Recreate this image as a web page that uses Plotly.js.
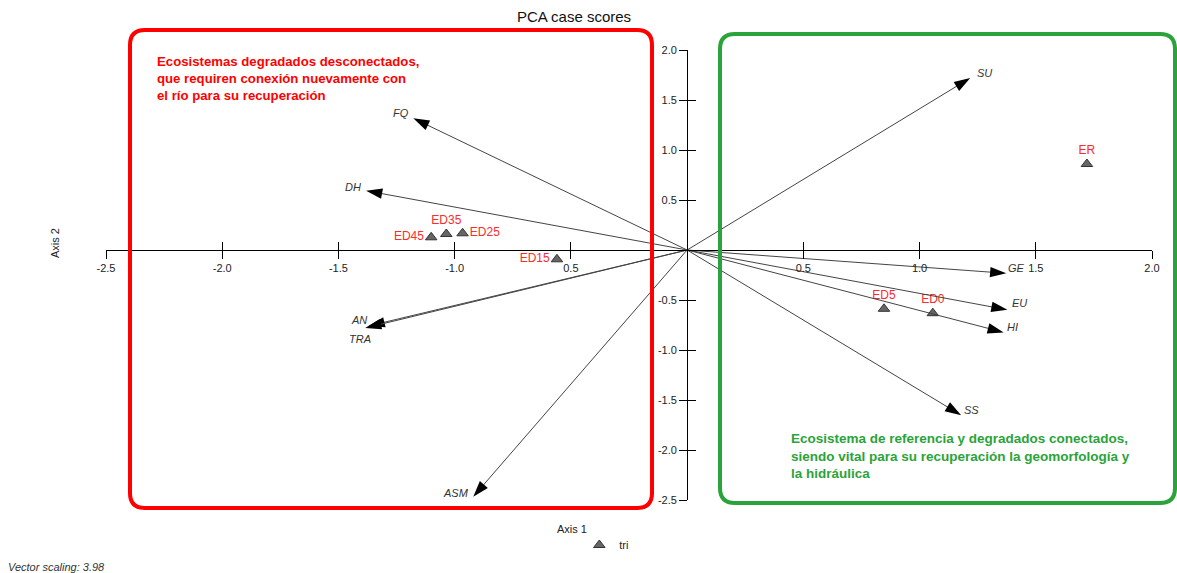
<!DOCTYPE html>
<html>
<head>
<meta charset="utf-8">
<script src="https://cdn.plot.ly/plotly-3.0.1.min.js"></script>
<style>html,body{margin:0;padding:0;background:#fff;}#chart{width:1177px;height:573px;}</style>
</head>
<body>
<div id="chart"></div>
<script>
// ---- data ----
const pointNames = ["ER", "ED0", "ED5", "ED15", "ED25", "ED35", "ED45"];
const pointX = [1.72, 1.057, 0.847, -0.56, -0.966, -1.036, -1.101];
const pointY = [0.86, -0.632, -0.588, -0.093, 0.167, 0.16, 0.127];

const vectorNames = ["SU", "GE", "EU", "HI", "SS", "FQ", "DH", "AN", "TRA", "ASM"];
const vectorX = [1.218, 1.373, 1.378, 1.362, 1.179, -1.178, -1.381, -1.37, -1.385, -0.92];
const vectorY = [1.72, -0.233, -0.598, -0.824, -1.652, 1.317, 0.593, -0.76, -0.78, -2.467];

const xTickVals = [-2.5, -2.0, -1.5, -1.0, -0.5, 0.5, 1.0, 1.5, 2.0];
const xTickText = ["-2.5", "-2.0", "-1.5", "-1.0", "0.5", "0.5", "1.0", "1.5", "2.0"];
const yTickVals = [2.0, 1.5, 1.0, 0.5, -0.5, -1.0, -1.5, -2.0, -2.5];
const yTickText = ["2.0", "1.5", "1.0", "0.5", "-0.5", "-1.0", "-1.5", "-2.0", "-2.5"];

const titleText = "PCA case scores";
const redText = "Ecosistemas degradados desconectados,<br>que requiren conexión nuevamente con<br>el río para su recuperación";
const greenText = "Ecosistema de referencia y degradados conectados,<br>siendo vital para su recuperación la geomorfología y<br>la hidráulica";

// ---- styles / positions (not data) ----
const pointLabelPos = ["top center", "top center", "top center", "middle left", "middle right", "top center", "middle left"];
const vecLabelShift = {
  SU: [14, 5], GE: [10, 5], EU: [12, 7], HI: [9, 5], SS: [10, 5],
  FQ: [-12, 5], DH: [-13, 4], AN: [-10, 6], TRA: [-5, -11], ASM: [-17, 4]
};
const FONT = "Liberation Sans, Arial, sans-serif";

const yPos = 2.5 / 4.5; // paper position of y=0
const xPos = 2.5 / 4.5; // paper position of x=0

const traces = [];
vectorNames.forEach((n, i) => {
  traces.push({
    type: "scatter", mode: "lines+markers",
    x: [0, vectorX[i]], y: [0, vectorY[i]],
    xaxis: "x2", yaxis: "y2",
    line: {color: "#444444", width: 1},
    marker: {symbol: "arrow", size: [0, 17], angleref: "previous", color: "#000000", opacity: 1, line: {width: 0}},
    showlegend: false, hoverinfo: "skip", cliponaxis: false, name: n
  });
});
traces.push({
  type: "scatter",
  mode: "markers+text",
  x: pointX, y: pointY, text: pointNames,
  textposition: pointLabelPos,
  textfont: {family: FONT, size: 12, color: "#ff2a2a"},
  marker: {symbol: "triangle-up", size: 10, color: "#666666", line: {color: "#333333", width: 1}},
  name: "tri",
  showlegend: true,
  cliponaxis: false,
  hoverinfo: "text"
});

const annotations = [];
vectorNames.forEach((n, i) => {
  annotations.push({
    x: vectorX[i], y: vectorY[i], xref: "x", yref: "y",
    text: n, showarrow: false,
    xshift: vecLabelShift[n][0], yshift: vecLabelShift[n][1],
    font: {family: FONT, size: 11, color: "#333333", style: "italic"}
  });
});

annotations.push(
  {xref: "paper", yref: "paper", x: 0.0469, y: 0.9945, xanchor: "left", yanchor: "top",
   align: "left", showarrow: false, text: "<b>" + redText + "</b>",
   font: {family: FONT, size: 13.2, color: "#ff0000"}},
  {xref: "paper", yref: "paper", x: 0.6530, y: 0.1585, xanchor: "left", yanchor: "top",
   align: "left", showarrow: false, text: "<b>" + greenText + "</b>",
   font: {family: FONT, size: 13.5, color: "#2aa33a"}},
  {xref: "paper", yref: "paper", x: -0.0488, y: 0.571, xanchor: "center", yanchor: "middle", textangle: -90, showarrow: false,
   text: "Axis 2", font: {family: FONT, size: 11, color: "#222"}},
  {xref: "paper", yref: "paper", x: 0.4455, y: -0.0644, xanchor: "center", yanchor: "middle", showarrow: false,
   text: "Axis 1", font: {family: FONT, size: 11, color: "#222"}},
  {xref: "paper", yref: "paper", x: -0.0956, y: -0.149, xanchor: "left", yanchor: "middle", showarrow: false,
   text: "<i>Vector scaling: 3.98</i>", font: {family: FONT, size: 11, color: "#333"}}
);

function roundRect(x0, y0, x1, y1, rx, ry) {
  return `M${x0 + rx},${y1} L${x1 - rx},${y1} Q${x1},${y1} ${x1},${y1 - ry} L${x1},${y0 + ry} Q${x1},${y0} ${x1 - rx},${y0} L${x0 + rx},${y0} Q${x0},${y0} ${x0},${y0 + ry} L${x0},${y1 - ry} Q${x0},${y1} ${x0 + rx},${y1} Z`;
}
const rx = 15 / 1046, ry = 15 / 450;
const shapes = [
  {type: "path", xref: "paper", yref: "paper", path: roundRect(0.02294, -0.01778, 0.5220, 1.0444, rx, ry),
   line: {color: "#ff0000", width: 4}, layer: "above"},
  {type: "path", xref: "paper", yref: "paper", path: roundRect(0.5870, -0.00667, 1.0220, 1.0356, rx, ry),
   line: {color: "#2aa33a", width: 4}, layer: "above"}
];

const axCommon = {showgrid: false, zeroline: false, anchor: "free", tickcolor: "#000", ticklen: 8, tickwidth: 1};
const layout = {
  width: 1177, height: 573,
  margin: {l: 106, r: 25, t: 50, b: 73},
  paper_bgcolor: "#fff", plot_bgcolor: "#fff",
  font: {family: FONT, size: 11, color: "#222"},
  title: {text: titleText, x: 0.4877, xref: "container", xanchor: "center", y: 0.970, yref: "container", yanchor: "middle",
          font: {family: FONT, size: 15, color: "#111"}},
  xaxis: Object.assign({}, axCommon, {range: [-2.5, 2.0], position: yPos, showline: true, linecolor: "#000", linewidth: 1,
          ticks: "outside", tickmode: "array", tickvals: xTickVals, ticktext: xTickText,
          tickfont: {family: FONT, size: 11, color: "#222"}}),
  xaxis2: Object.assign({}, axCommon, {range: [-2.5, 2.0], position: yPos, overlaying: "x", showline: false,
          ticks: "inside", tickmode: "array", tickvals: xTickVals, showticklabels: false}),
  yaxis: Object.assign({}, axCommon, {range: [-2.5, 2.0], position: xPos, showline: true, linecolor: "#000", linewidth: 1,
          ticks: "outside", tickmode: "array", tickvals: yTickVals, ticktext: yTickText,
          tickfont: {family: FONT, size: 11, color: "#222"}}),
  yaxis2: Object.assign({}, axCommon, {range: [-2.5, 2.0], position: xPos, overlaying: "y", showline: false,
          ticks: "inside", tickmode: "array", tickvals: yTickVals, showticklabels: false}),
  showlegend: true,
  legend: {x: 0.4525, y: -0.1, xanchor: "left", yanchor: "middle", bgcolor: "rgba(0,0,0,0)",
           font: {family: FONT, size: 11, color: "#222"}, itemwidth: 30},
  annotations: annotations,
  shapes: shapes
};

Plotly.newPlot("chart", traces, layout, {displayModeBar: false, staticPlot: true});
</script>
</body>
</html>
